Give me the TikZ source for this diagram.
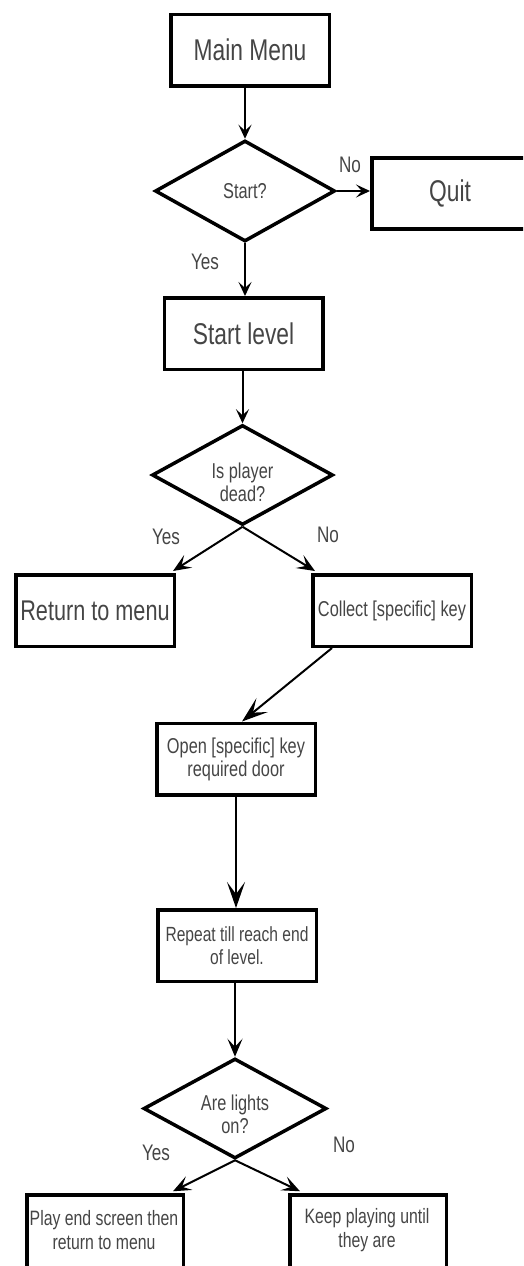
\documentclass[tikz,border=0pt]{standalone}
\usepackage{fontspec}
\setmainfont{Liberation Sans}[FakeStretch=0.76]
\usetikzlibrary{shapes.geometric,arrows.meta,calc}
\definecolor{txtgray}{HTML}{454545}

\begin{document}
\begin{tikzpicture}[x=1pt,y=-1pt,
  box/.style={draw=black, line width=3.5pt, rectangle, minimum width=158.5pt, minimum height=71.5pt, inner sep=0pt, text=txtgray, align=center},
  dec/.style={draw=black, line width=3.5pt, diamond, inner sep=0pt, text=txtgray, align=center},
  txt/.style={text=txtgray, align=center, inner sep=0pt},
  bigf/.style={font=\fontsize{30}{32}\selectfont},
  midf/.style={font=\fontsize{21.5}{23}\selectfont},
  smf/.style={font=\fontsize{20.8}{23.5}\selectfont},
  lbl/.style={text=txtgray, font=\fontsize{22.5}{24}\selectfont, inner sep=0pt},
  conns/.style={line width=2pt, -{Stealth[length=14pt,width=13pt,inset=6pt]}},
  connm/.style={line width=2pt, -{Stealth[length=18pt,width=15pt,inset=8pt]}},
  connb/.style={line width=2pt, -{Stealth[length=26pt,width=18pt,inset=12pt]}},
]
\useasboundingbox (0,0) rectangle (523,1266);
\clip (0,0) rectangle (523,1266);

% nodes
\node[box,bigf] (main) at (250,50) {Main Menu};
\node[dec,midf,minimum width=180pt,minimum height=101pt] (start) at (245,191) {Start?};
\node[box,minimum width=170pt,minimum height=71pt] (quit) at (456.75,193.5) {};
\node[txt,bigf] (quittxt) at (450,193) {Quit};
\node[lbl] (no1) at (350,164.5) {No};
\node[lbl] (yes1) at (205,262) {Yes};

\node[box,bigf] (sl) at (243.5,333.5) {Start level};
\node[dec,minimum width=181pt,minimum height=100pt] (dead) at (242.5,475) {};
\node[txt,midf] (deadtxt) at (242.5,482) {Is player\\dead?};
\node[lbl] (yes2) at (166,537) {Yes};
\node[lbl] (no2) at (328,535) {No};

\node[box,font=\fontsize{28.5}{30}\selectfont] (ret) at (95,610.5) {Return to menu};
\node[box,midf] (collect) at (392,610.5) {Collect [specific] key};

\node[box,midf] (open) at (236,759) {Open [specific] key\\required door};
\node[box,font=\fontsize{20.5}{23}\selectfont] (repeat) at (237,945.5) {Repeat till reach end\\of level.};

\node[dec,minimum width=183pt,minimum height=100pt] (lights) at (235,1108.5) {};
\node[txt,midf] (lightstxt) at (235,1114) {Are lights\\on?};
\node[lbl] (yes3) at (156,1153) {Yes};
\node[lbl] (no3) at (344,1145) {No};

\node[box,minimum width=156.5pt,minimum height=76pt] (play) at (105,1233) {};
\node[txt,smf] (playtxt) at (104,1230) {Play end screen then\\return to menu};
\node[box,minimum width=156.5pt,minimum height=76pt] (keep) at (368,1233) {};
\node[txt,smf] (keeptxt) at (367,1230) {Keep playing until\\they are};

% connectors
\draw[conns] (main.south -| start.north) -- (start.north);
\draw[conns] (start.east) -- (start.east -| quit.west);
\draw[conns] (start.south) -- (start.south |- sl.north);
\draw[conns] (sl.south -| dead.north) -- (dead.north);
\draw[connm] (dead.south) -- ($(ret.north east)+(-3,-2)$);
\draw[connm] (dead.south) -- ($(collect.north west)+(4,-2)$);
\draw[connb] ($(collect.south west)+(21,0)$) -- ($(open.north)+(6,0)$);
\draw[connb] (open.south) -- (open.south |- repeat.north);
\draw[connm] (repeat.south -| lights.north) -- (lights.north);
\draw[connm] (lights.south) -- ($(play.north east)+(-12,-2)$);
\draw[connm] (lights.south) -- ($(keep.north west)+(12,-2)$);
\end{tikzpicture}
\end{document}
